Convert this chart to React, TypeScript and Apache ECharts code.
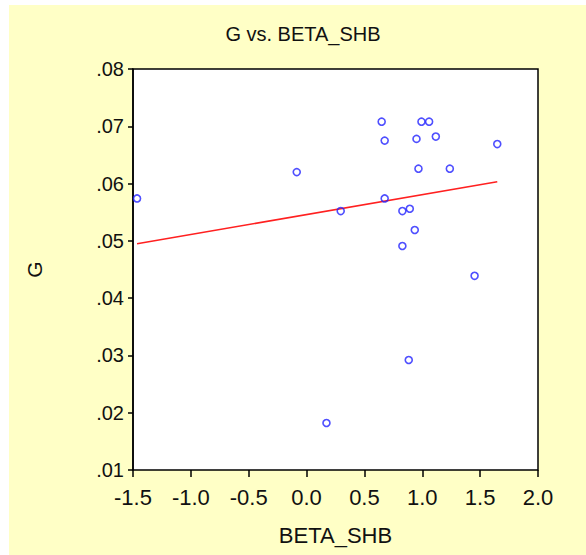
import React, { useEffect, useRef } from "react";
import * as echarts from "echarts";

const betaShb = [-1.465, -0.085, 0.172, 0.295, 0.649, 0.675, 0.675, 0.828, 0.828, 0.883, 0.892, 0.935, 0.95, 0.967, 0.993, 1.059, 1.117, 1.238, 1.452, 1.648];
const gValues = [0.0574, 0.062, 0.0182, 0.0552, 0.0708, 0.0675, 0.0574, 0.0552, 0.0491, 0.0292, 0.0556, 0.0519, 0.0678, 0.0626, 0.0708, 0.0708, 0.0682, 0.0626, 0.0439, 0.0669];
const fitX = [-1.465, 1.648];
const fitY = [0.0495, 0.0603];
const xTicks = { min: -1.5, max: 2.0, step: 0.5 };
const yTicks = { min: 0.01, max: 0.08, step: 0.01 };

const FONT = "'Liberation Sans', Arial, sans-serif";

export default function App() {
  const ref = useRef<HTMLDivElement>(null);
  useEffect(() => {
    if (!ref.current) return;
    const chart = echarts.init(ref.current, undefined, { renderer: "svg" });
    chart.setOption({
      animation: false,
      backgroundColor: "#ffffff",
      graphic: [
        {
          type: "rect",
          z: -10,
          silent: true,
          shape: { x: 9, y: 5, width: 577, height: 560 },
          style: { fill: "#FFFFC6" },
        },
      ],
      title: {
        text: "G vs. BETA_SHB",
        left: 298,
        textAlign: "center",
        top: 19,
        textStyle: { fontFamily: FONT, fontSize: 20, fontWeight: "normal", color: "#111" },
      },
      grid: {
        left: 133,
        width: 405,
        top: 69,
        height: 401,
        show: true,
        backgroundColor: "#ffffff",
        borderColor: "#000",
        borderWidth: 1.5,
      },
      xAxis: {
        type: "value",
        min: xTicks.min,
        max: xTicks.max,
        interval: xTicks.step,
        name: "BETA_SHB",
        nameLocation: "middle",
        nameGap: 54,
        nameTextStyle: { fontFamily: FONT, fontSize: 22, color: "#111" },
        axisLine: { show: false, onZero: false },
        axisTick: { show: true, inside: false, length: 7, lineStyle: { color: "#000", width: 1.5 } },
        axisLabel: {
          margin: 16,
          fontFamily: FONT,
          fontSize: 22,
          color: "#111",
          formatter: (v: number) => v.toFixed(1),
        },
        splitLine: { show: false },
      },
      yAxis: {
        type: "value",
        min: yTicks.min,
        max: yTicks.max,
        interval: yTicks.step,
        name: "G",
        nameLocation: "middle",
        nameGap: 88,
        nameRotate: 90,
        nameTextStyle: { fontFamily: FONT, fontSize: 21, color: "#111" },
        axisLine: { show: true, onZero: false, lineStyle: { color: "#000", width: 1.5 } },
        axisTick: { show: true, inside: false, length: 5, lineStyle: { color: "#000", width: 1.5 } },
        axisLabel: {
          margin: 9,
          fontFamily: FONT,
          fontSize: 20,
          color: "#111",
          formatter: (v: number) => v.toFixed(2).replace(/^0/, ""),
        },
        splitLine: { show: false },
      },
      series: [
        {
          type: "line",
          data: fitX.map((x, i) => [x, fitY[i]]),
          showSymbol: false,
          symbol: "none",
          lineStyle: { color: "#ff2020", width: 1.5 },
          z: 2,
        },
        {
          type: "scatter",
          data: betaShb.map((x, i) => [x, gValues[i]]),
          symbol: "circle",
          symbolSize: 7,
          itemStyle: { color: "rgba(0,0,0,0)", borderColor: "#2323ff", borderWidth: 1.6 },
          z: 3,
        },
      ],
    });
    return () => chart.dispose();
  }, []);
  return (
    <div
      ref={ref}
      style={{ position: "fixed", left: 0, top: 0, width: 586, height: 555 }}
    />
  );
}
